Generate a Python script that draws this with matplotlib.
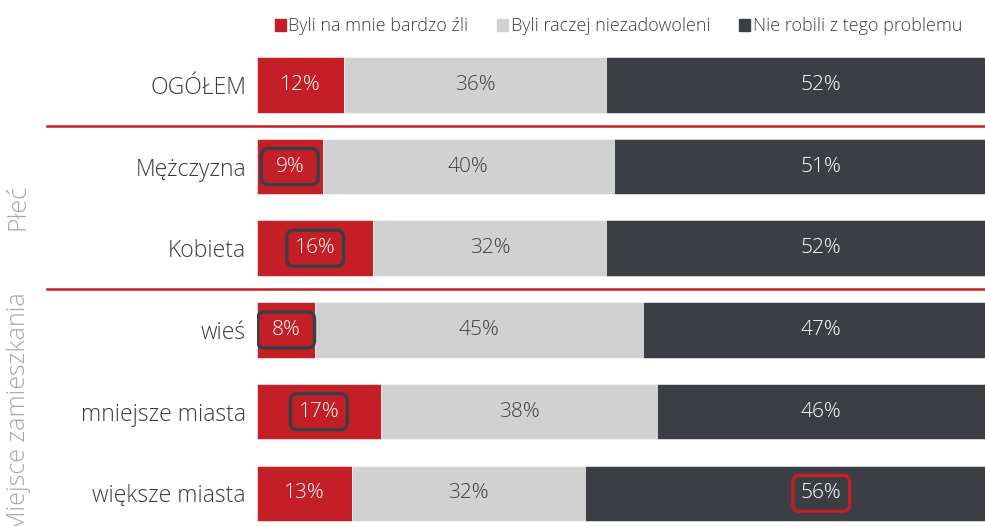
import matplotlib.pyplot as plt
from matplotlib.patches import Patch, FancyBboxPatch
import numpy as np

plt.rcParams['font.family'] = ['Open Sans', 'DejaVu Sans']
plt.rcParams['font.weight'] = 'light'

# survey answers per group, in percent
categories = ['OGÓŁEM', 'Mężczyzna', 'Kobieta', 'wieś', 'mniejsze miasta', 'większe miasta']
bardzo_zli = [12, 9, 16, 8, 17, 13]
niezadowoleni = [36, 40, 32, 45, 38, 32]
bez_problemu = [52, 51, 52, 47, 46, 56]

series_names = ['Byli na mnie bardzo źli', 'Byli raczej niezadowoleni', 'Nie robili z tego problemu']
groups = [('Płeć', 1, 2), ('Miejsce zamieszkania', 3, 5)]

# labels drawn inside a rounded frame: (row, series index, frame colour)
highlighted = [(1, 0, '#3b3e42'), (2, 0, '#3b3e42'), (3, 0, '#3b3e42'),
               (4, 0, '#3b3e42'), (5, 2, '#c41f26')]

RED = '#c41f26'
GREY = '#d0d1d0'
DARK = '#3b3e42'
colors = [RED, GREY, DARK]
text_colors = ['white', '#404040', 'white']

fig = plt.figure(figsize=(9.85, 5.26), dpi=100)
ax = fig.add_axes([257 / 985, 0, 1 - 257 / 985, 1 - 44 / 526])

y = np.arange(len(categories))
data = [np.array(bardzo_zli), np.array(niezadowoleni), np.array(bez_problemu)]
left = np.zeros(len(categories))
label_x = []
for vals, col in zip(data, colors):
    ax.barh(y, vals, left=left, height=0.68, color=col, edgecolor='white', linewidth=0.4)
    label_x.append(left + vals / 2)
    left = left + vals
# the dark segment runs past the right edge, so its labels sit in a fixed column
label_x[2] = np.full(len(categories), 77.5)

for s, (vals, tc) in enumerate(zip(data, text_colors)):
    for i, v in enumerate(vals):
        ax.text(label_x[s][i], y[i], f'{v}%', ha='center', va='center',
                fontsize=15, color=tc)

box_w, box_h = 7.8, 0.44
for row, s, ec in highlighted:
    cx = label_x[s][row]
    ax.add_patch(FancyBboxPatch((cx - box_w / 2, row - box_h / 2), box_w, box_h,
                                boxstyle='round,pad=0,rounding_size=0.9',
                                mutation_aspect=0.1,
                                fc='none', ec=ec, lw=2.4, zorder=5))

ax.set_xlim(0, 100)
ax.set_ylim(5.40, -0.5)
ax.set_yticks(y)
ax.set_yticklabels(categories, fontsize=16.5, color='#3a3a3a')
ax.tick_params(axis='y', length=0, pad=8)
ax.set_xticks([])
for sp in ax.spines.values():
    sp.set_visible(False)

# red separators between the groups
for yy in [0.5, 2.5]:
    ax.plot([-28.8, 100], [yy, yy], color=RED, lw=1.8, clip_on=False)

for name, a, b in groups:
    ax.text(-32.8, (a + b) / 2, name, rotation=90, ha='center', va='center',
            fontsize=18, color='#a8a8a8', clip_on=False)

handles = [Patch(color=c) for c in colors]
fig.legend(handles, series_names, loc='center', bbox_to_anchor=(0.628, 0.950),
           ncol=3, frameon=False, fontsize=13, handlelength=0.6, handleheight=0.6,
           handletextpad=0.15, columnspacing=1.6, labelcolor='#404040')

fig.savefig('out.png', dpi=100)
